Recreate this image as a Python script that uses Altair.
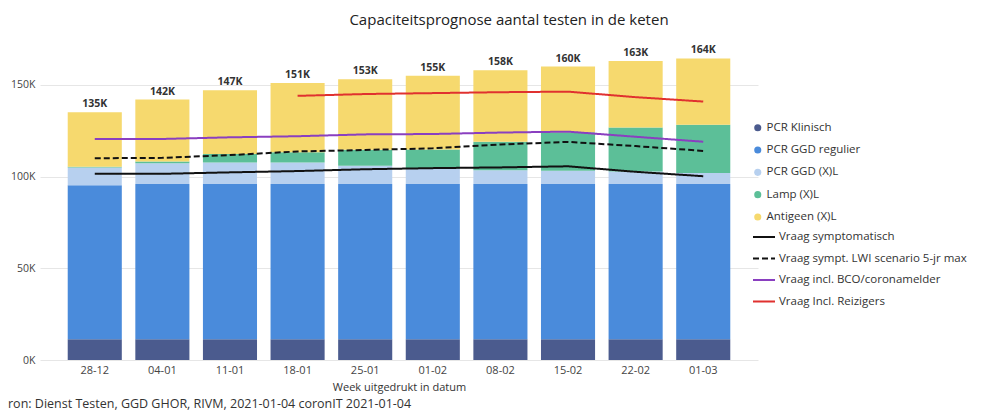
import altair as alt
import pandas as pd

weeks = ["28-12", "04-01", "11-01", "18-01", "25-01", "01-02", "08-02", "15-02", "22-02", "01-03"]

bar_series = ["PCR Klinisch", "PCR GGD regulier", "PCR GGD (X)L", "Lamp (X)L", "Antigeen (X)L"]
bar_colors = ["#4B5B8E", "#4A8BDB", "#B7D0EF", "#5CBF98", "#F6D96E"]

pcr_klinisch = [11300, 11300, 11300, 11300, 11300, 11300, 11300, 11300, 11300, 11300]
pcr_ggd_regulier = [84000, 84600, 84600, 84600, 84600, 84600, 84600, 84600, 84600, 84600]
pcr_ggd_xl = [9700, 11300, 11800, 11800, 10000, 8400, 7600, 7300, 6900, 6000]
lamp_xl = [300, 1000, 4600, 5600, 8700, 10500, 15500, 20900, 24000, 26400]
antigeen_xl = [29700, 33800, 34700, 37700, 38400, 40200, 39000, 35900, 36200, 36100]

line_series = ["Vraag symptomatisch", "Vraag sympt. LWI scenario 5-jr max",
               "Vraag incl. BCO/coronamelder", "Vraag Incl. Reizigers"]
line_colors = ["#111111", "#111111", "#8A3FC0", "#E0312F"]
line_dashes = [[1, 0], [6, 3], [1, 0], [1, 0]]

vraag_symptomatisch = [101500, 101500, 102300, 103000, 104000, 104600, 105000, 105600, 102600, 100200]
vraag_lwi = [110000, 110200, 111700, 113700, 114500, 115400, 117500, 118900, 116600, 114000]
vraag_bco = [120500, 120500, 121400, 122000, 123000, 123200, 124000, 124500, 121700, 119000]
vraag_reizigers = [None, None, None, 144000, 145000, 145500, 146000, 146300, 143300, 140900]

title_text = "Capaciteitsprognose aantal testen in de keten"
x_title = "Week uitgedrukt in datum"
source_text = "ron: Dienst Testen, GGD GHOR, RIVM, 2021-01-04  coronIT 2021-01-04"

FONT = "Open Sans"

# ---- build tables ----
bar_values = [pcr_klinisch, pcr_ggd_regulier, pcr_ggd_xl, lamp_xl, antigeen_xl]
bar_rows = []
for i, (name, vals) in enumerate(zip(bar_series, bar_values)):
    for w, v in zip(weeks, vals):
        bar_rows.append({"week": w, "serie": name, "value": v, "idx": i})
bars_df = pd.DataFrame(bar_rows)

totals = [sum(v[k] for v in bar_values) for k in range(len(weeks))]
tot_df = pd.DataFrame({"week": weeks, "total": totals})

line_values = [vraag_symptomatisch, vraag_lwi, vraag_bco, vraag_reizigers]
line_rows = []
for name, vals in zip(line_series, line_values):
    for w, v in zip(weeks, vals):
        if v is not None:
            line_rows.append({"week": w, "lijn": name, "value": v})
lines_df = pd.DataFrame(line_rows)

src_df = pd.DataFrame({"t": [source_text]})

x_enc = alt.X(
    "week:N", sort=weeks,
    scale=alt.Scale(paddingInner=0.2, paddingOuter=0.41),
    axis=alt.Axis(title=x_title, labelAngle=0, ticks=False, domain=False,
                  labelFontSize=11, labelColor="#444", labelPadding=4,
                  titleFontSize=11, titleColor="#333", titleFontWeight="normal",
                  titlePadding=6, labelFont=FONT, titleFont=FONT),
)

y_scale = alt.Scale(domain=[0, 175000], nice=False)

bars = alt.Chart(bars_df).mark_bar().encode(
    x=x_enc,
    y=alt.Y("value:Q", stack="zero", scale=y_scale,
            axis=alt.Axis(title=None, values=[0, 50000, 100000, 150000],
                          labelExpr="format(datum.value/1000, 'd') + 'K'",
                          ticks=False, domain=False, grid=True, gridColor="#e6e6e6",
                          labelFontSize=10.5, labelColor="#444", labelPadding=5,
                          labelFont=FONT)),
    fill=alt.Fill("serie:N",
                  scale=alt.Scale(domain=bar_series, range=bar_colors),
                  legend=alt.Legend(title=None, orient="none", legendX=712, legendY=83,
                                    symbolType="circle", symbolSize=50, rowPadding=9.3,
                                    labelFontSize=11.5, labelColor="#333", labelFont=FONT,
                                    padding=0, labelOffset=3, symbolStrokeWidth=0,
                                    labelLimit=300)),
    order=alt.Order("idx:Q", sort="ascending"),
)

line_legend = alt.Legend(title=None, orient="none", legendX=712, legendY=186,
                         symbolType="stroke", symbolSize=484, symbolStrokeWidth=2,
                         rowPadding=3.5, labelFontSize=11.5, labelColor="#333",
                         labelFont=FONT, padding=0, labelOffset=3, labelLimit=300)

lines = alt.Chart(lines_df).mark_line(strokeWidth=2).encode(
    x=alt.X("week:N", sort=weeks),
    y=alt.Y("value:Q", scale=y_scale),
    stroke=alt.Stroke("lijn:N", scale=alt.Scale(domain=line_series, range=line_colors),
                      legend=line_legend),
    strokeDash=alt.StrokeDash("lijn:N", scale=alt.Scale(domain=line_series, range=line_dashes),
                              legend=line_legend),
)

labels = alt.Chart(tot_df).transform_calculate(
    lab="format(datum.total/1000, '.0f') + 'K'"
).mark_text(baseline="bottom", dy=-3, fontSize=10.5, fontWeight="bold",
            color="#333", font=FONT).encode(
    x=alt.X("week:N", sort=weeks),
    y=alt.Y("total:Q", scale=y_scale),
    text="lab:N",
)

source = alt.Chart(src_df).mark_text(align="left", baseline="middle", fontSize=12.5,
                                     color="#333", font=FONT).encode(
    x=alt.value(-32), y=alt.value(365), text="t:N"
)

chart = alt.layer(bars, lines, labels, source).properties(
    width=718, height=321,
    padding={"left": 0, "top": 5, "right": 5, "bottom": 0},
    title=alt.TitleParams(title_text, fontSize=15, font=FONT, fontWeight="normal",
                          color="#222", anchor="middle", dx=110, offset=11),
).configure(font=FONT).configure_view(strokeWidth=0)

chart.save("out.html", embed_options={"renderer": "svg", "actions": False})
